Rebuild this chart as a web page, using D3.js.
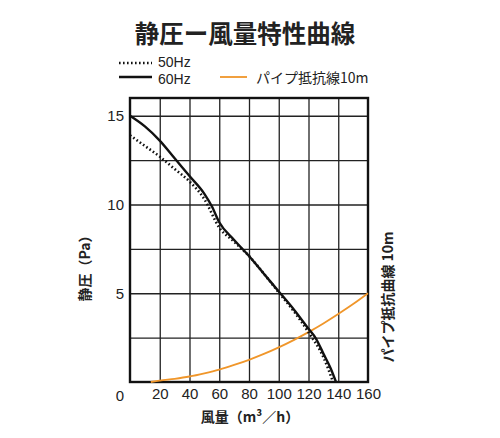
<!DOCTYPE html>
<html>
<head>
<meta charset="utf-8">
<script src="https://cdn.jsdelivr.net/npm/d3@7"></script>
<style>
  body { margin: 0; background: #fff; }
  text { font-family: "Liberation Sans", "Noto Sans CJK JP", sans-serif; fill: #222; }
  .jp { font-family: "Noto Sans CJK JP", sans-serif; }
  .grid line { stroke: #222; stroke-width: 1.3; }
  .grid path { display: none; }
</style>
</head>
<body>
<svg width="500" height="438"></svg>
<script>
// 60Hz curve
const flow60 = [0, 10, 20, 30, 40, 50, 55, 60, 70, 80, 90, 100, 110, 120, 125, 130, 135, 138.5]
const pres60 = [15, 14.4, 13.6, 12.6, 11.6, 10.6, 9.9, 9.0, 8.0, 7.1, 6.1, 5.1, 4.1, 3.0, 2.45, 1.6, 0.75, 0]
// 50Hz curve
const flow50 = [0, 10, 20, 30, 40, 50, 60, 70, 80, 90, 100, 110, 120, 130, 136.5]
const pres50 = [13.9, 13.3, 12.7, 12.0, 11.3, 10.3, 8.7, 7.9, 7.1, 6.1, 5.05, 4.0, 2.8, 1.4, 0]
// pipe resistance 10m
const flowPipe = [14, 20, 30, 40, 50, 60, 70, 80, 90, 100, 110, 120, 130, 140, 150, 160]
const presPipe = [0, 0.08, 0.18, 0.31, 0.49, 0.7, 0.96, 1.25, 1.58, 1.95, 2.36, 2.81, 3.3, 3.83, 4.39, 5.0]

const xTicks = [20, 40, 60, 80, 100, 120, 140, 160]
const yTicks = [5, 10, 15]
const xGrid = [20, 40, 60, 80, 100, 120, 140]
const yGrid = [2.5, 5, 7.5, 10, 12.5, 15]

const svg = d3.select('svg')

const mLeft = 130, mRight = 368, mTop = 98, mBottom = 382

const x = d3.scaleLinear().domain([0, 160]).range([mLeft, mRight])
const y = d3.scaleLinear().domain([0, 16]).range([mBottom, mTop])

// grid
svg.append('g')
  .attr('class', 'grid')
  .attr('transform', `translate(0, ${mBottom})`)
  .call(d3.axisBottom(x).tickValues(xGrid).tickSize(-(mBottom - mTop)).tickFormat(''))
svg.append('g')
  .attr('class', 'grid')
  .attr('transform', `translate(${mLeft}, 0)`)
  .call(d3.axisLeft(y).tickValues(yGrid).tickSize(-(mRight - mLeft)).tickFormat(''))

// frame
svg.append('rect')
  .attr('x', mLeft).attr('y', mTop)
  .attr('width', mRight - mLeft).attr('height', mBottom - mTop)
  .attr('fill', 'none').attr('stroke', '#111').attr('stroke-width', 2.4)

// tick labels
const xAxis = svg.append('g')
  .attr('transform', `translate(0, ${mBottom})`)
  .call(d3.axisBottom(x).tickValues(xTicks).tickSize(0).tickPadding(6))
xAxis.select('.domain').remove()
xAxis.selectAll('text').style('font-size', '15px').attr('fill', '#222')

const yAxis = svg.append('g')
  .attr('transform', `translate(${mLeft}, 0)`)
  .call(d3.axisLeft(y).tickValues(yTicks).tickSize(0).tickPadding(6))
yAxis.select('.domain').remove()
yAxis.selectAll('text').style('font-size', '15px').attr('fill', '#222')

svg.append('text')
  .attr('x', mLeft - 10).attr('y', mBottom + 19)
  .attr('text-anchor', 'middle')
  .style('font-size', '15px')
  .text('0')

// curves
const line = d3.line().x(d => x(d[0])).y(d => y(d[1])).curve(d3.curveMonotoneX)

svg.append('path')
  .datum(d3.zip(flowPipe, presPipe))
  .attr('d', line)
  .attr('fill', 'none').attr('stroke', '#f0962a').attr('stroke-width', 1.8)

svg.append('path')
  .datum(d3.zip(flow50, pres50))
  .attr('d', line)
  .attr('fill', 'none').attr('stroke', '#111').attr('stroke-width', 2.6)
  .attr('stroke-dasharray', '1.6,2.4')

svg.append('path')
  .datum(d3.zip(flow60, pres60))
  .attr('d', line)
  .attr('fill', 'none').attr('stroke', '#111').attr('stroke-width', 2.4)

// title
svg.append('text')
  .attr('class', 'jp')
  .attr('x', 245).attr('y', 43)
  .attr('text-anchor', 'middle')
  .style('font-size', '24.5px').style('font-weight', 'bold')
  .text('静圧ー風量特性曲線')

// legend
svg.append('line').attr('x1', 119).attr('x2', 152).attr('y1', 63).attr('y2', 63)
  .attr('stroke', '#111').attr('stroke-width', 2.6).attr('stroke-dasharray', '1.6,2.4')
svg.append('text').attr('x', 158).attr('y', 67).style('font-size', '14px').text('50Hz')
svg.append('line').attr('x1', 119).attr('x2', 152).attr('y1', 77).attr('y2', 77)
  .attr('stroke', '#111').attr('stroke-width', 2.4)
svg.append('text').attr('x', 158).attr('y', 84).style('font-size', '14px').text('60Hz')
svg.append('line').attr('x1', 220).attr('x2', 247).attr('y1', 77).attr('y2', 77)
  .attr('stroke', '#f0962a').attr('stroke-width', 1.8)
svg.append('text').attr('class', 'jp').attr('x', 256).attr('y', 83)
  .style('font-size', '14px').text('パイプ抵抗線10m')

// axis labels
svg.append('text')
  .attr('class', 'jp')
  .attr('transform', 'translate(90, 265) rotate(-90)')
  .attr('text-anchor', 'middle')
  .style('font-size', '14px').style('font-weight', 'bold')
  .text('静圧（Pa）')

svg.append('text')
  .attr('class', 'jp')
  .attr('x', 250).attr('y', 422)
  .attr('text-anchor', 'middle')
  .style('font-size', '14px').style('font-weight', 'bold')
  .text('風量（m³／h）')

svg.append('text')
  .attr('class', 'jp')
  .attr('transform', 'translate(393, 297) rotate(-90)')
  .attr('text-anchor', 'middle')
  .style('font-size', '14px').style('font-weight', 'bold')
  .text('パイプ抵抗曲線 10m')
</script>
</body>
</html>
